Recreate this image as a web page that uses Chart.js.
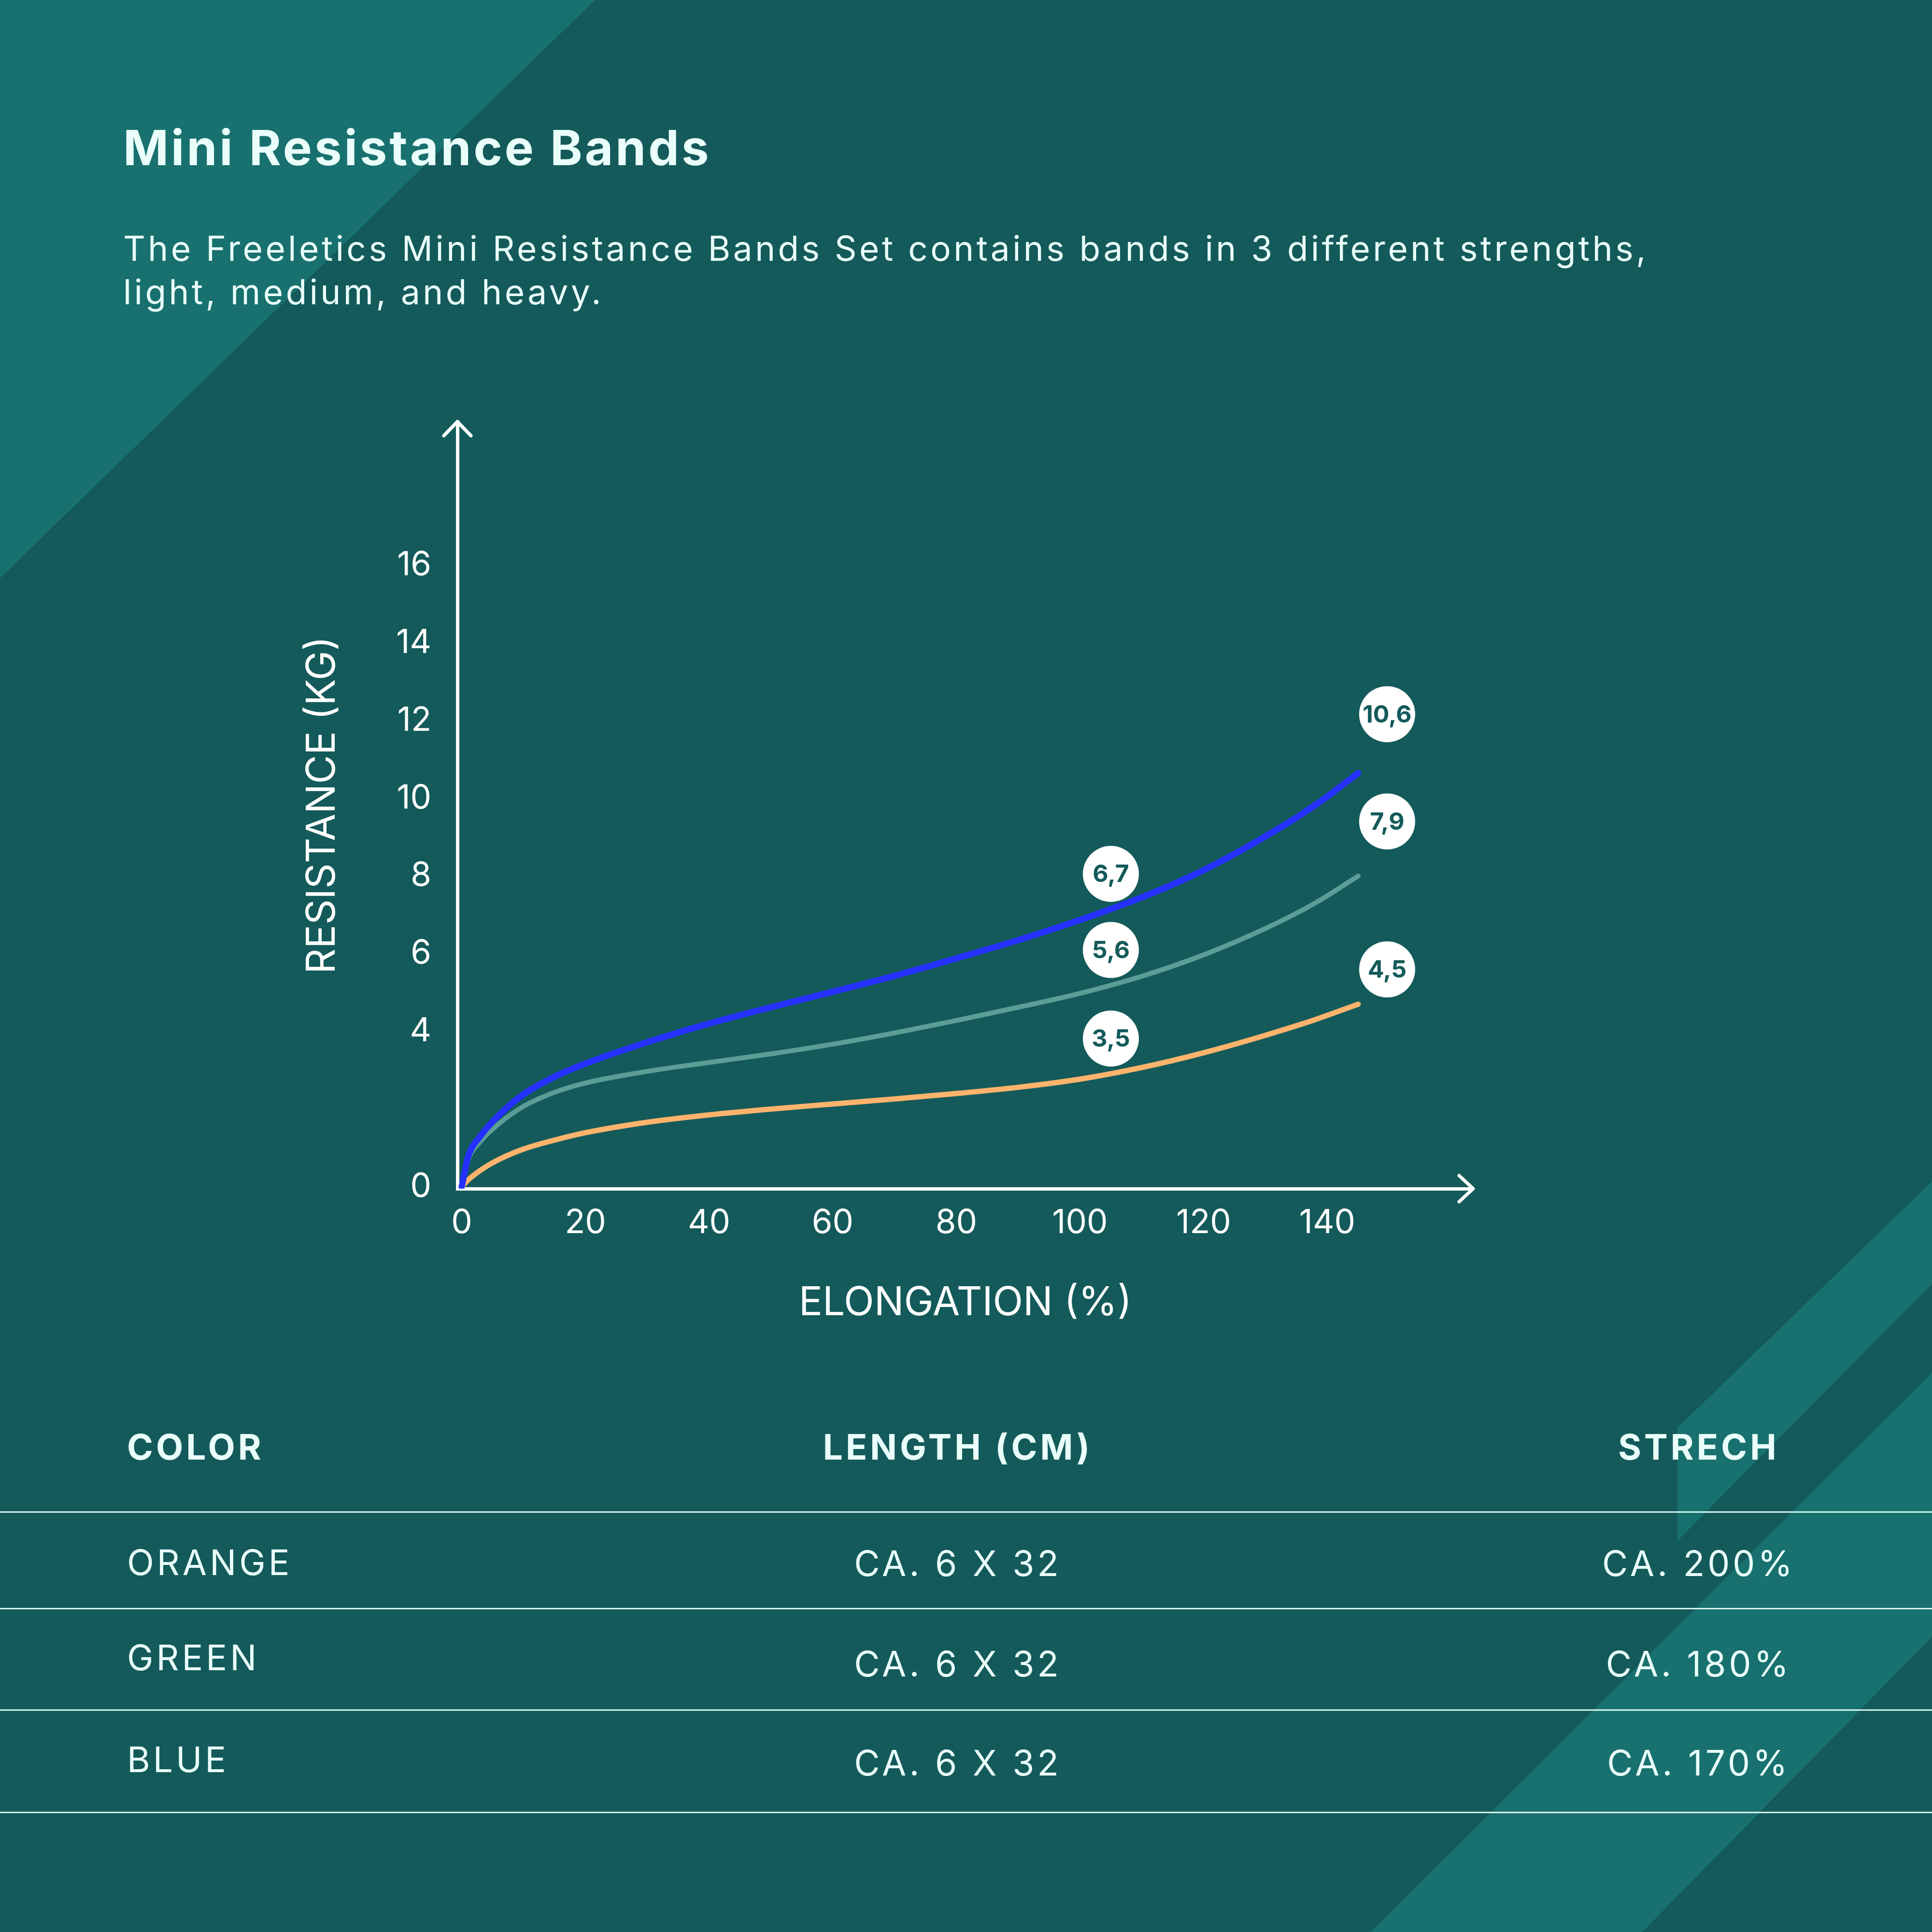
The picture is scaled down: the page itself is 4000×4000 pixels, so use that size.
<!DOCTYPE html>
<html>
<head>
<meta charset="utf-8">
<script src="https://cdn.jsdelivr.net/npm/chart.js@4.4.1/dist/chart.umd.min.js"></script>
<style>
  html, body { margin: 0; padding: 0; }
  body { width: 4000px; height: 4000px; background: #145a5a; overflow: hidden; font-family: Inter, "Open Sans", sans-serif; }
  #page { position: relative; width: 4000px; height: 4000px; }
  #deco { position: absolute; left: 0; top: 0; }
  .txt { position: absolute; color: #eafffb; white-space: nowrap; line-height: 1; transform: translateY(-50%); }
  .mid { transform: translate(-50%, -50%); }
  .rule { position: absolute; left: 0; width: 4000px; height: 3px; background: #d6f3ef; }
  #chartBox { position: absolute; left: 500px; top: 700px; width: 2700px; height: 2100px; }
</style>
</head>
<body>
<div id="page">
  <svg id="deco" width="4000" height="4000">
    <polygon points="0,0 1232,0 0,1197" fill="#18716e" />
    <polygon points="4000,2446 3473,2956 3473,3190 4000,2658" fill="#18716e" />
    <polygon points="4000,2842 2838,4000 3400,4000 4000,3389" fill="#18716e" />
  </svg>

  <div class="txt" style="left:255px; top:305px; font-size:101px; font-weight:700; letter-spacing:5px;">Mini Resistance Bands</div>
  <div class="txt" style="left:255px; top:514px; font-size:71px; letter-spacing:5.5px;">The Freeletics Mini Resistance Bands Set contains bands in 3 different strengths,</div>
  <div class="txt" style="left:255px; top:604px; font-size:71px; letter-spacing:5.5px;">light, medium, and heavy.</div>

  <div id="chartBox"><canvas id="resistanceChart" width="2700" height="2100"></canvas></div>
  <div id="table"></div>
</div>

<script>
// elongation (%) sampled along the curves
const elongation = [0, 1, 3, 6, 10, 15, 20, 30, 40, 50, 60, 70, 80, 90, 100, 110, 120, 130, 138, 145];
const heavyBlue = [0, 0.75, 1.3, 1.84, 2.38, 2.83, 3.17, 3.72, 4.2, 4.62, 5.02, 5.43, 5.88, 6.35, 6.87, 7.45, 8.15, 9.02, 9.82, 10.65];
const mediumGreen = [0, 0.67, 1.16, 1.62, 2.07, 2.43, 2.67, 2.97, 3.2, 3.42, 3.67, 3.96, 4.28, 4.62, 4.98, 5.42, 5.97, 6.65, 7.3, 8.0];
const lightOrange = [0, 0.17, 0.42, 0.7, 0.97, 1.2, 1.39, 1.66, 1.85, 2.0, 2.13, 2.26, 2.4, 2.56, 2.77, 3.07, 3.45, 3.9, 4.3, 4.7];

const midLabels = ["6,7", "5,6", "3,5"];
const endLabels = ["10,6", "7,9", "4,5"];
const midLabelAt = 105;

const xTicks = [0, 20, 40, 60, 80, 100, 120, 140];
const yTicks = [0, 4, 6, 8, 10, 12, 14, 16];

const tableHeaders = ["COLOR", "LENGTH (CM)", "STRECH"];
const bandNames = ["ORANGE", "GREEN", "BLUE"];
const bandLengths = ["CA. 6 X 32", "CA. 6 X 32", "CA. 6 X 32"];
const bandStretch = ["CA. 200%", "CA. 180%", "CA. 170%"];

// table
const table = document.getElementById("table");
const headerY = 2995;
const nameYs = [3234, 3431, 3642];
const cellYs = [3236, 3444, 3649];
const ruleYs = [3130, 3330, 3540, 3752];

function addText(text, x, y, weight, centered) {
  const d = document.createElement("div");
  d.className = centered ? "txt mid" : "txt";
  d.style.left = x + "px";
  d.style.top = y + "px";
  d.style.fontSize = "73px";
  d.style.fontWeight = weight;
  d.style.letterSpacing = "6px";
  d.textContent = text;
  table.appendChild(d);
}

addText(tableHeaders[0], 263, headerY, 700, false);
addText(tableHeaders[1], 1983, headerY, 700, true);
addText(tableHeaders[2], 3517, headerY, 700, true);
for (let i = 0; i < bandNames.length; i++) {
  addText(bandNames[i], 263, nameYs[i], 400, false);
  addText(bandLengths[i], 1983, cellYs[i], 400, true);
  addText(bandStretch[i], 3517, cellYs[i], 400, true);
}
ruleYs.forEach((y) => {
  const r = document.createElement("div");
  r.className = "rule";
  r.style.top = y - 1.5 + "px";
  table.appendChild(r);
});

// chart
function toPoints(ys) {
  return elongation.map((x, i) => ({ x: x, y: ys[i] }));
}

function valueAt(ys, xv) {
  for (let i = 1; i < elongation.length; i++) {
    if (xv <= elongation[i]) {
      let t = (xv - elongation[i - 1]) / (elongation[i] - elongation[i - 1]);
      return ys[i - 1] + t * (ys[i] - ys[i - 1]);
    }
  }
  return ys[ys.length - 1];
}

function drawBubble(ctx, cx, cy, text) {
  ctx.beginPath();
  ctx.arc(cx, cy, 58, 0, Math.PI * 2);
  ctx.fillStyle = "#ffffff";
  ctx.fill();
  ctx.fillStyle = "#145a5a";
  ctx.font = "700 50px Inter";
  ctx.textAlign = "center";
  ctx.textBaseline = "middle";
  ctx.fillText(text, cx, cy + 2);
}

const seriesValues = [heavyBlue, mediumGreen, lightOrange];
const endBubbleLift = [122, 113, 72];

const bubblePlugin = {
  id: "bubbles",
  afterDatasetsDraw(chart) {
    const { ctx } = chart;
    const xs = chart.scales.x;
    const ys = chart.scales.y;
    ctx.save();
    seriesValues.forEach((vals, i) => {
      let mx = xs.getPixelForValue(midLabelAt);
      let my = ys.getPixelForValue(valueAt(vals, midLabelAt)) - 72;
      drawBubble(ctx, mx, my, midLabels[i]);

      let last = elongation.length - 1;
      let ex = xs.getPixelForValue(elongation[last]) + 60;
      let ey = ys.getPixelForValue(vals[last]) - endBubbleLift[i];
      drawBubble(ctx, ex, ey, endLabels[i]);
    });
    ctx.restore();
  },
};

const arrowPlugin = {
  id: "arrows",
  afterDraw(chart) {
    const { ctx, chartArea } = chart;
    ctx.save();
    ctx.strokeStyle = "#ffffff";
    ctx.lineWidth = 7;
    ctx.lineCap = "round";
    ctx.lineJoin = "round";
    // up arrow
    ctx.beginPath();
    ctx.moveTo(chartArea.left - 28, chartArea.top + 29);
    ctx.lineTo(chartArea.left, chartArea.top);
    ctx.lineTo(chartArea.left + 28, chartArea.top + 29);
    ctx.stroke();
    // right arrow
    ctx.beginPath();
    ctx.moveTo(chartArea.right - 29, chartArea.bottom - 27);
    ctx.lineTo(chartArea.right, chartArea.bottom);
    ctx.lineTo(chartArea.right - 29, chartArea.bottom + 27);
    ctx.stroke();
    ctx.restore();
  },
};

const ctx = document.getElementById("resistanceChart").getContext("2d");

const chart = new Chart(ctx, {
  type: "line",
  data: {
    datasets: [
      { label: "Blue", data: toPoints(heavyBlue), borderColor: "#2330ff", borderWidth: 13 },
      { label: "Green", data: toPoints(mediumGreen), borderColor: "#5c9d98", borderWidth: 10 },
      { label: "Orange", data: toPoints(lightOrange), borderColor: "#ffb36c", borderWidth: 11 },
    ],
  },
  options: {
    responsive: false,
    animation: false,
    events: [],
    layout: { padding: { top: 173, right: 150, left: 0, bottom: 0 } },
    elements: {
      point: { radius: 0 },
      line: { cubicInterpolationMode: "monotone", borderCapStyle: "round", borderJoinStyle: "round" },
    },
    plugins: {
      legend: { display: false },
      tooltip: { enabled: false },
    },
    scales: {
      x: {
        type: "linear",
        min: -0.7,
        max: 163.6,
        afterBuildTicks: (axis) => {
          axis.ticks = xTicks.map((v) => ({ value: v }));
        },
        afterFit: (axis) => {
          axis.height = 339;
        },
        grid: { display: false, drawTicks: false },
        border: { display: true, color: "#ffffff", width: 7 },
        ticks: {
          color: "#ffffff",
          font: { family: "Inter", size: 69 },
          padding: 30,
          maxRotation: 0,
          autoSkip: false,
          callback: (v) => String(v),
        },
        title: {
          display: true,
          text: "ELONGATION (%)",
          color: "#ffffff",
          font: { family: "Inter", size: 82 },
          padding: { top: 0, bottom: 52 },
        },
      },
      y: {
        type: "linear",
        min: -0.05,
        max: 19.7,
        afterBuildTicks: (axis) => {
          axis.ticks = yTicks.map((v) => ({ value: v }));
        },
        afterFit: (axis) => {
          axis.width = 447;
        },
        grid: { display: false, drawTicks: false },
        border: { display: true, color: "#ffffff", width: 7 },
        ticks: {
          color: "#ffffff",
          font: { family: "Inter", size: 69 },
          padding: 54,
          autoSkip: false,
          callback: (v) => String(v),
        },
        title: {
          display: true,
          text: "RESISTANCE (KG)",
          color: "#ffffff",
          font: { family: "Inter", size: 82 },
          padding: { top: 119, bottom: 0 },
        },
      },
    },
  },
  plugins: [bubblePlugin, arrowPlugin],
});
</script>
</body>
</html>
